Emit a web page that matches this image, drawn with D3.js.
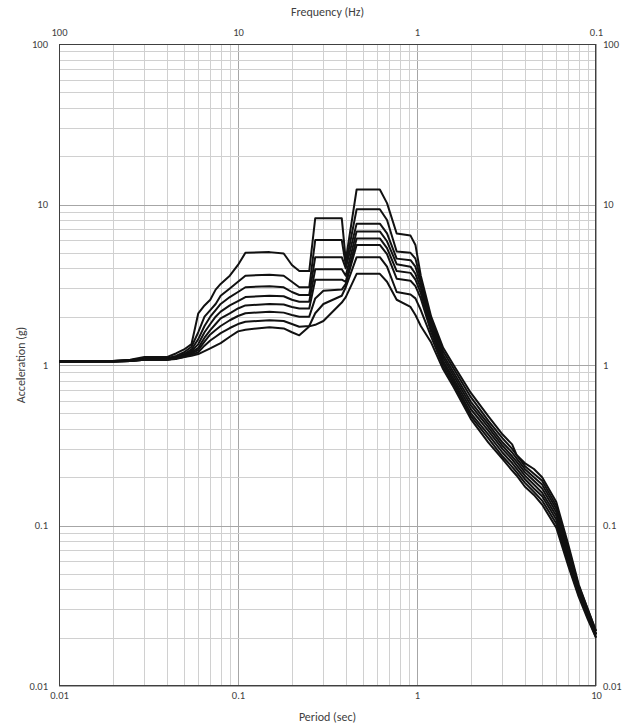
<!DOCTYPE html>
<html>
<head>
<meta charset="utf-8">
<script src="https://cdn.jsdelivr.net/npm/d3@7"></script>
<style>
  html, body { margin: 0; padding: 0; background: #fff; }
  svg { display: block; }
  text { font-family: Calibri, Carlito, "Open Sans", sans-serif; fill: #404040; }
</style>
</head>
<body>
<div id="chart"></div>
<script>
// spectra, period in sec vs acceleration in g (8 curves, top to bottom)
var periods = [0.01, 0.02, 0.025, 0.03, 0.04, 0.045, 0.05, 0.055, 0.06, 0.065, 0.07, 0.075, 0.08, 0.09, 0.1, 0.11,
  0.15, 0.18, 0.2, 0.22, 0.25, 0.27, 0.3, 0.38, 0.4, 0.46, 0.62, 0.68, 0.77, 0.92, 0.98,
  1.05, 1.2, 1.4, 1.6, 2, 2.5, 3, 3.4, 3.6, 4, 4.5, 5, 6, 7, 8, 9, 10];

var curve1 = [1.05, 1.06, 1.08, 1.12, 1.12, 1.18, 1.25, 1.35, 2.1, 2.35, 2.55, 2.95, 3.2, 3.6, 4.2, 5.0,
  5.05, 4.95, 4.2, 3.85, 3.85, 8.2, 8.2, 8.2, 4.5, 12.4, 12.4, 10.2, 6.6, 6.4, 5.6,
  3.6, 2.0, 1.28, 1.0, 0.67, 0.48, 0.37, 0.32, 0.275, 0.245, 0.225, 0.2, 0.14, 0.076, 0.043, 0.03, 0.022];
var curve2 = [1.05, 1.06, 1.07, 1.1, 1.1, 1.14, 1.2, 1.3, 1.6, 2.0, 2.2, 2.4, 2.7, 3.0, 3.3, 3.6,
  3.65, 3.6, 3.3, 3.05, 3.05, 6.0, 6.0, 6.0, 4.2, 9.35, 9.35, 8.0, 5.1, 5.0, 4.6,
  3.4, 1.92, 1.22, 0.95, 0.63, 0.45, 0.35, 0.3, 0.275, 0.235, 0.21, 0.19, 0.133, 0.073, 0.042, 0.03, 0.022];
var curve3 = [1.05, 1.06, 1.07, 1.1, 1.1, 1.12, 1.17, 1.25, 1.45, 1.75, 2.0, 2.2, 2.4, 2.65, 2.85, 3.05,
  3.1, 3.05, 2.85, 2.73, 2.73, 4.7, 4.7, 4.7, 4.0, 7.6, 7.6, 6.6, 4.6, 4.5, 4.1,
  3.2, 1.85, 1.16, 0.9, 0.59, 0.43, 0.33, 0.285, 0.262, 0.225, 0.2, 0.18, 0.127, 0.07, 0.041, 0.029, 0.021];
var curve4 = [1.05, 1.05, 1.07, 1.09, 1.09, 1.11, 1.15, 1.22, 1.35, 1.6, 1.8, 2.0, 2.15, 2.35, 2.5, 2.65,
  2.7, 2.68, 2.55, 2.48, 2.48, 3.95, 3.95, 3.95, 3.6, 6.8, 6.8, 5.9, 4.25, 4.1, 3.7,
  3.0, 1.77, 1.11, 0.86, 0.56, 0.41, 0.315, 0.27, 0.25, 0.215, 0.19, 0.17, 0.121, 0.067, 0.04, 0.028, 0.021];
var curve5 = [1.05, 1.05, 1.06, 1.09, 1.09, 1.1, 1.14, 1.2, 1.28, 1.48, 1.65, 1.8, 1.95, 2.1, 2.25, 2.35,
  2.4, 2.38, 2.3, 2.25, 2.25, 3.4, 3.4, 3.4, 3.3, 6.15, 6.15, 5.35, 3.85, 3.75, 3.4,
  2.8, 1.68, 1.06, 0.82, 0.53, 0.39, 0.3, 0.258, 0.238, 0.205, 0.18, 0.16, 0.115, 0.064, 0.039, 0.028, 0.021];
var curve6 = [1.05, 1.05, 1.06, 1.08, 1.08, 1.1, 1.13, 1.18, 1.24, 1.4, 1.55, 1.65, 1.75, 1.9, 2.02, 2.1,
  2.15, 2.12, 2.05, 2.0, 2.0, 2.6, 2.9, 2.95, 3.2, 5.6, 5.6, 4.9, 3.45, 3.35, 3.1,
  2.6, 1.6, 1.02, 0.79, 0.5, 0.37, 0.285, 0.245, 0.226, 0.195, 0.17, 0.152, 0.109, 0.061, 0.038, 0.027, 0.021];
var curve7 = [1.05, 1.05, 1.06, 1.08, 1.08, 1.09, 1.12, 1.16, 1.2, 1.32, 1.42, 1.5, 1.58, 1.7, 1.8, 1.86,
  1.9, 1.88, 1.8, 1.73, 1.75, 2.1, 2.4, 2.7, 3.05, 4.7, 4.7, 4.1, 2.85, 2.75, 2.6,
  2.2, 1.5, 0.98, 0.76, 0.48, 0.35, 0.27, 0.232, 0.215, 0.185, 0.162, 0.143, 0.103, 0.058, 0.037, 0.027, 0.02];
var curve8 = [1.05, 1.05, 1.06, 1.08, 1.08, 1.1, 1.12, 1.14, 1.17, 1.22, 1.27, 1.32, 1.37, 1.5, 1.62, 1.66,
  1.72, 1.69, 1.6, 1.53, 1.74, 1.78, 1.88, 2.45, 2.65, 3.7, 3.7, 3.3, 2.55, 2.3, 2.05,
  1.75, 1.38, 0.94, 0.73, 0.46, 0.33, 0.26, 0.22, 0.205, 0.175, 0.155, 0.135, 0.097, 0.056, 0.036, 0.026, 0.02];

var curves = [curve1, curve2, curve3, curve4, curve5, curve6, curve7, curve8];

var periodTicks = [0.01, 0.1, 1, 10],
    freqTicks = [100, 10, 1, 0.1],
    accelTicks = [0.01, 0.1, 1, 10, 100];

var width = 623, height = 726,
    margin = {top: 44, left: 59, right: 27, bottom: 40};

var svg = d3.select('#chart').append('svg')
    .attr('width', width).attr('height', height);

var x = d3.scaleLog().domain([0.01, 10]).range([margin.left, width - margin.right]);
var y = d3.scaleLog().domain([0.01, 100]).range([height - margin.bottom, margin.top]);
var xf = d3.scaleLog().domain([100, 0.1]).range([margin.left, width - margin.right]);

var plotW = width - margin.left - margin.right,
    plotH = height - margin.top - margin.bottom;

// grid: minor then major
var isMajor = (v) => Math.abs(Math.log10(v) - Math.round(Math.log10(v))) < 1e-6;

var grid = svg.append('g').attr('class', 'grid');
grid.selectAll('.vx').data(x.ticks()).enter().append('line')
    .attr('x1', (d) => Math.round(x(d)) + 0.5).attr('x2', (d) => Math.round(x(d)) + 0.5)
    .attr('y1', margin.top).attr('y2', height - margin.bottom)
    .attr('stroke', (d) => isMajor(d) ? '#a6a6a6' : '#d0d0d0')
    .attr('stroke-width', 1);
grid.selectAll('.hy').data(y.ticks()).enter().append('line')
    .attr('y1', (d) => Math.round(y(d)) + 0.5).attr('y2', (d) => Math.round(y(d)) + 0.5)
    .attr('x1', margin.left).attr('x2', width - margin.right)
    .attr('stroke', (d) => isMajor(d) ? '#a6a6a6' : '#d0d0d0')
    .attr('stroke-width', 1);

// frame
svg.append('rect')
    .attr('x', margin.left + 0.5).attr('y', margin.top + 0.5)
    .attr('width', plotW - 1).attr('height', plotH - 1)
    .attr('fill', 'none').attr('stroke', '#404040').attr('stroke-width', 1);

// curves
var line = d3.line()
    .x((d) => x(d[0]))
    .y((d) => y(d[1]));

svg.append('g').attr('class', 'curves')
  .selectAll('path')
  .data(curves)
  .enter().append('path')
    .attr('d', (c) => line(periods.map((p, i) => [p, c[i]])))
    .attr('fill', 'none')
    .attr('stroke', '#111')
    .attr('stroke-width', 2)
    .attr('stroke-linejoin', 'round');

// axes (labels only, lines come from the grid)
function styleAxis(g) {
  g.select('.domain').remove();
  g.selectAll('.tick line').remove();
  g.selectAll('text').style('font-size', '10.5px').attr('fill', '#404040')
    .style('font-family', 'Calibri, Carlito, "Open Sans", sans-serif');
}

svg.append('g')
    .attr('transform', `translate(0,${height - margin.bottom})`)
    .call(d3.axisBottom(x).tickValues(periodTicks).tickSize(0).tickPadding(6).tickFormat((d) => String(d)))
    .call(styleAxis);

svg.append('g')
    .attr('transform', `translate(0,${margin.top})`)
    .call(d3.axisTop(xf).tickValues(freqTicks).tickSize(0).tickPadding(8).tickFormat((d) => String(d)))
    .call(styleAxis);

svg.append('g')
    .attr('transform', `translate(${margin.left},0)`)
    .call(d3.axisLeft(y).tickValues(accelTicks).tickSize(0).tickPadding(11).tickFormat((d) => String(d)))
    .call(styleAxis);

svg.append('g')
    .attr('transform', `translate(${width - margin.right},0)`)
    .call(d3.axisRight(y).tickValues(accelTicks).tickSize(0).tickPadding(7).tickFormat((d) => String(d)))
    .call(styleAxis);

// titles
svg.append('text')
    .attr('x', margin.left + plotW / 2).attr('y', 16)
    .attr('text-anchor', 'middle').style('font-size', '12px')
    .text('Frequency (Hz)');

svg.append('text')
    .attr('x', margin.left + plotW / 2).attr('y', 721)
    .attr('text-anchor', 'middle').style('font-size', '12px')
    .text('Period (sec)');

svg.append('text')
    .attr('transform', `translate(25,${margin.top + plotH / 2})rotate(-90)`)
    .attr('text-anchor', 'middle').style('font-size', '12px')
    .text('Acceleration (g)');
</script>
</body>
</html>
